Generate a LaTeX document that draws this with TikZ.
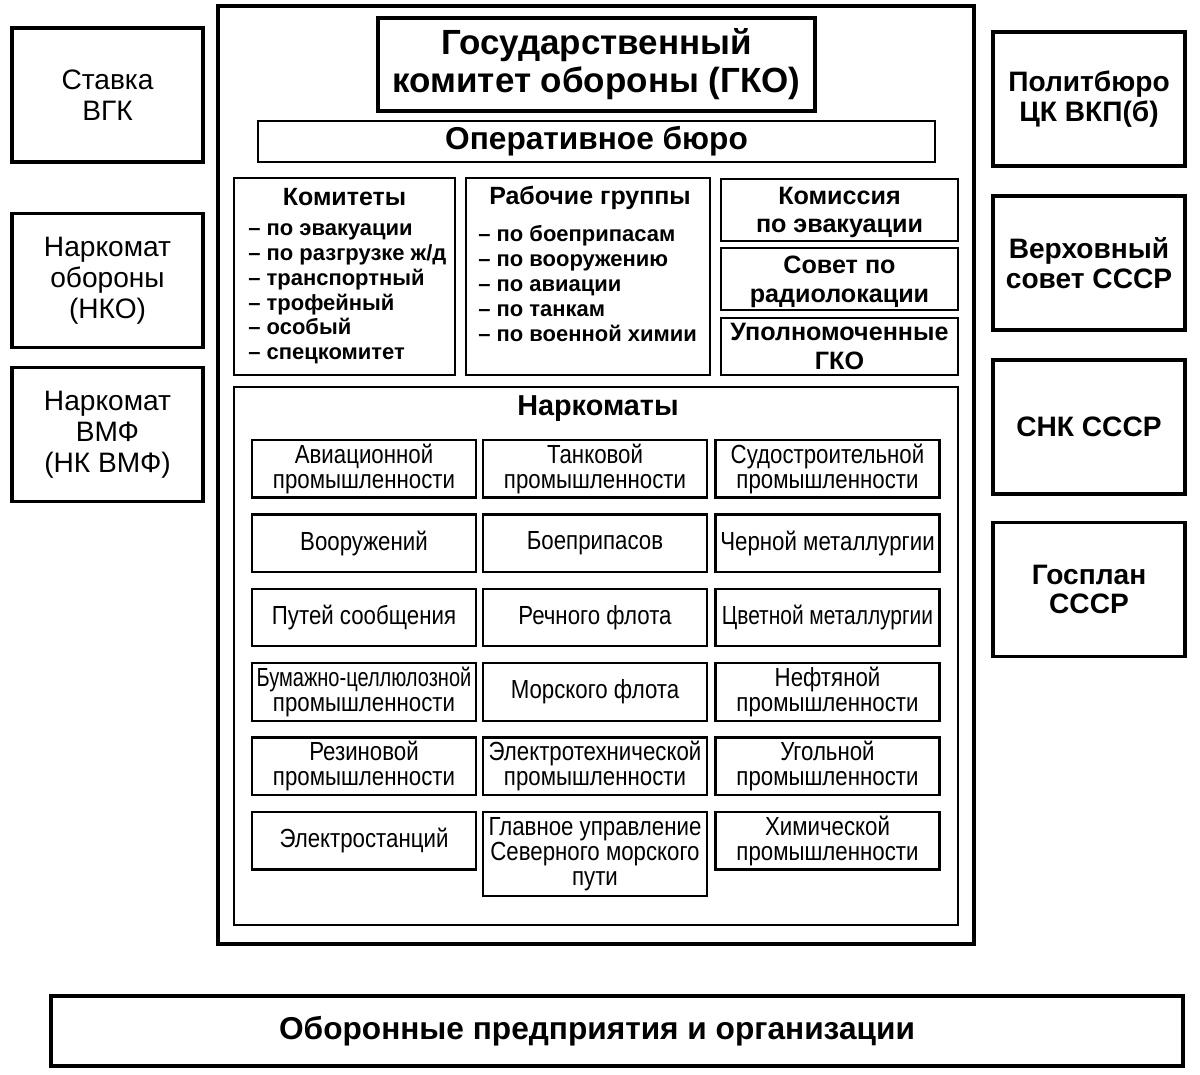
\documentclass[tikz,border=0pt]{standalone}
\usepackage{fontspec}
\setmainfont{Liberation Sans}
\newfontfamily\narrowfont[FakeStretch=0.85]{Liberation Sans}
\begin{document}
\begin{tikzpicture}[x=0.2mm, y=-0.2mm,
  box/.style={draw, line width=1.8pt, align=center, inner sep=0pt},
  side/.style={box, minimum width=38.2mm, minimum height=26.8mm},
  sidereg/.style={side, font=\fontsize{16}{17.6}\selectfont},
  sidebold/.style={side, font=\bfseries\fontsize{16}{17}\selectfont},
  small/.style={box, line width=1.5pt, minimum width=47.4mm, text depth=0pt,
    font=\bfseries\fontsize{14.3}{16.2}\selectfont},
  cell/.style={draw, line width=1.3pt, align=center, inner sep=0pt,
    minimum width=44.8mm, minimum height=11.5mm,
    font=\narrowfont\fontsize{14.9}{14.2}\selectfont},
  list/.style={anchor=north west, align=left, inner sep=0pt,
    font=\bfseries\fontsize{12.5}{14.2}\selectfont},
  head/.style={font=\bfseries\fontsize{14.2}{16}\selectfont}]
\useasboundingbox (0,0) rectangle (1200,1074);

\node[sidereg] (stavka) at (107.5, 95) {Ставка\\ВГК};
\node[sidereg] (nko) at (107.5, 280.5) {Наркомат\\обороны\\(НКО)};
\node[sidereg] (nkvmf) at (107.5, 434.5) {Наркомат\\ВМФ\\(НК ВМФ)};

\node[sidebold, minimum width=38.4mm] (politburo) at (1089, 99) {Политбюро\\ЦК ВКП(б)};
\node[sidebold, minimum width=38.4mm] (verkhsovet) at (1089, 263) {Верховный\\совет СССР};
\node[sidebold, minimum width=38.4mm] (snk) at (1089, 427) {СНК СССР};
\node[sidebold, minimum width=38.4mm] (gosplan) at (1089, 589.5) {Госплан\\СССР};

\node[box, minimum width=151.2mm, minimum height=187.6mm] (gkoframe) at (596, 475) {};
\node[box, minimum width=87.4mm, minimum height=18.6mm,
  font=\bfseries\fontsize{19.9}{21.5}\selectfont] (gko) at (596.5, 64.5)
  {Государственный\\комитет обороны (ГКО)};
\node[box, line width=1.4pt, minimum width=135.4mm, minimum height=8.2mm,
  font=\bfseries\fontsize{18}{20}\selectfont] (opburo) at (596.5, 141.5) {Оперативное бюро};

\node[box, line width=1.5pt, minimum width=44.2mm, minimum height=39.4mm] (komitety) at (344.5, 276.5) {};
\node[head] (komitetyhead) at (344.5, 197) {Комитеты};
\node[list] (komitetylist) at (248, 223)
  {– по эвакуации\\– по разгрузке ж/д\\– транспортный\\– трофейный\\– особый\\– спецкомитет};

\node[box, line width=1.5pt, minimum width=48.8mm, minimum height=39.4mm] (rabgruppy) at (588, 276.5) {};
\node[head] (rabgruppyhead) at (590, 198) {Рабочие группы};
\node[list] (rabgruppylist) at (478, 225)
  {– по боеприпасам\\– по вооружению\\– по авиации\\– по танкам\\– по военной химии};

\node[small, minimum height=12.4mm] (komissia) at (839.5, 210) {Комиссия\\по эвакуации};
\node[small, minimum height=12.4mm] (radar) at (839.5, 279) {Совет по\\радиолокации};
\node[small, minimum height=11.4mm] (upoln) at (839.5, 346.5) {Уполномоченные\\ГКО};

\node[box, line width=1.6pt, minimum width=144.8mm, minimum height=107.6mm] (narkomaty) at (596, 656) {};
\node[font=\bfseries\fontsize{16.4}{18}\selectfont] (narkomatyhead) at (598, 409) {Наркоматы};

\foreach \a/\b/\c [count=\r] in {
  {Авиационной\\промышленности}/{Танковой\\промышленности}/{Судостроительной\\промышленности},
  {Вооружений}/{Боеприпасов}/{Черной металлургии},
  {Путей сообщения}/{Речного флота}/{\scalebox{0.94}[1]{Цветной металлургии}},
  {\scalebox{0.9}[1]{Бумажно-целлюлозной}\\промышленности}/{Морского флота}/{Нефтяной\\промышленности},
  {Резиновой\\промышленности}/{Электротехнической\\промышленности}/{Угольной\\промышленности}} {
  \node[cell] (n\r-1) at (364, {468.75+74.4*(\r-1)}) {\a};
  \node[cell] (n\r-2) at (595, {468.75+74.4*(\r-1)}) {\b};
  \node[cell] (n\r-3) at (827.5, {468.75+74.4*(\r-1)}) {\c};
}
\node[cell] (n6-1) at (364, 840.75) {Электростанций};
\node[cell, minimum height=16.8mm] (n6-2) at (595, 854) {Главное управление\\Северного морского\\пути};
\node[cell] (n6-3) at (827.5, 840.75) {Химической\\промышленности};

\node[box, minimum width=226.4mm, minimum height=14mm,
  font=\bfseries\fontsize{18}{20}\selectfont] (predpr) at (617, 1031)
  {Оборонные предприятия и организации\hspace*{8mm}};
\end{tikzpicture}
\end{document}
